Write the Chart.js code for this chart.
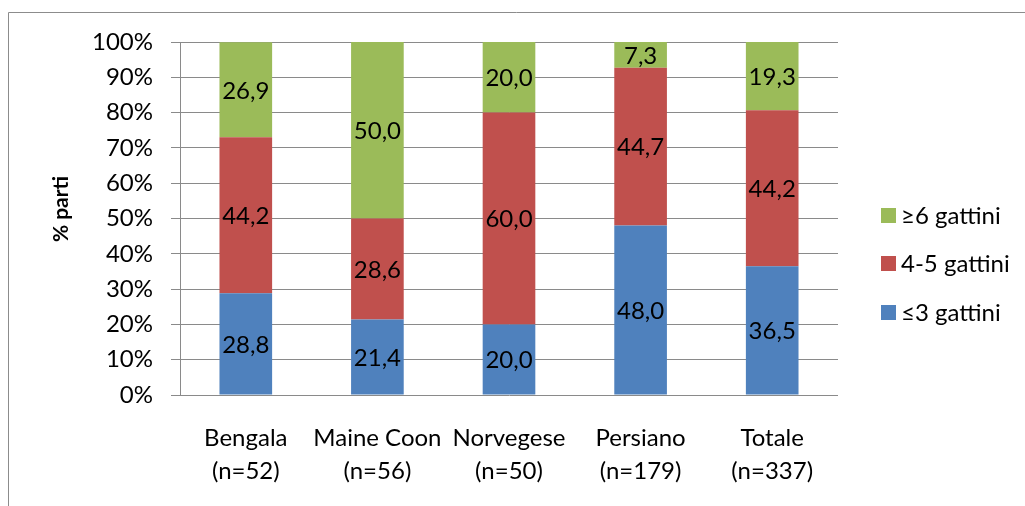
<!DOCTYPE html>
<html>
<head>
<meta charset="utf-8">
<script src="https://cdn.jsdelivr.net/npm/chart.js@4/dist/chart.umd.min.js"></script>
<style>
  html, body { margin: 0; padding: 0; background: #fff; }
  #wrap { width: 1025px; height: 506px; position: relative; }
</style>
</head>
<body>
<div id="wrap"><canvas id="c" width="1025" height="506"></canvas></div>
<script>
// Breeds with sample sizes (two-line axis labels)
const categories = [
  ['Bengala', '(n=52)'],
  ['Maine Coon', '(n=56)'],
  ['Norvegese', '(n=50)'],
  ['Persiano', '(n=179)'],
  ['Totale', '(n=337)']
];
// Percentage of litters per litter-size class
const small = [28.8, 21.4, 20.0, 48.0, 36.5];   // ≤3 gattini
const medium = [44.2, 28.6, 60.0, 44.7, 44.2];  // 4-5 gattini
const large = [26.9, 50.0, 20.0, 7.3, 19.3];    // ≥6 gattini
const yTicks = [0, 10, 20, 30, 40, 50, 60, 70, 80, 90, 100];
const seriesNames = ['≤3 gattini', '4-5 gattini', '≥6 gattini'];
const yTitle = '% parti';

const FONT = "Lato, 'Open Sans', 'DejaVu Sans', sans-serif";
const FS = 24;
const colors = ['#4F81BD', '#C0504D', '#9BBB59'];
const gridColor = '#8a8a8a';

// Values written inside each bar segment, with a decimal comma
const segmentLabels = {
  id: 'segmentLabels',
  afterDatasetsDraw(chart) {
    const ctx = chart.ctx;
    ctx.save();
    ctx.font = FS + 'px ' + FONT;
    ctx.fillStyle = '#000';
    ctx.textAlign = 'center';
    ctx.textBaseline = 'middle';
    chart.data.datasets.forEach((ds, i) => {
      chart.getDatasetMeta(i).data.forEach((bar, j) => {
        const p = bar.getProps(['x', 'y', 'base'], true);
        const v = ds.data[j];
        ctx.fillText(v.toFixed(1).replace('.', ','), p.x, (p.y + p.base) / 2 + 1);
      });
    });
    ctx.restore();
  }
};

// Outer frame, rotated axis title and the legend on the right
const decorations = {
  id: 'decorations',
  beforeDraw(chart) {
    const ctx = chart.ctx;
    ctx.save();
    ctx.strokeStyle = '#8c8c8c';
    ctx.lineWidth = 1;
    ctx.beginPath();
    ctx.moveTo(8.5, 506);
    ctx.lineTo(8.5, 12.5);
    ctx.lineTo(1025, 12.5);
    ctx.stroke();
    ctx.restore();
  },
  afterDraw(chart) {
    const ctx = chart.ctx;
    ctx.save();
    // axis title
    ctx.translate(61, 209);
    ctx.rotate(-Math.PI / 2);
    ctx.font = 'bold 21px ' + FONT;
    ctx.fillStyle = '#000';
    ctx.textAlign = 'center';
    ctx.textBaseline = 'middle';
    ctx.fillText(yTitle, 0, 0);
    ctx.restore();

    // legend, top entry is the top segment
    ctx.save();
    ctx.font = FS + 'px ' + FONT;
    ctx.textBaseline = 'middle';
    ctx.textAlign = 'left';
    const rows = [215, 263, 312];
    const order = [2, 1, 0];
    order.forEach((di, k) => {
      const ds = chart.data.datasets[di];
      ctx.fillStyle = ds.backgroundColor;
      ctx.fillRect(881, rows[k] - 7, 15, 15);
      ctx.fillStyle = '#000';
      ctx.fillText(ds.label, 901, rows[k] + 1);
    });
    ctx.restore();
  }
};

new Chart(document.getElementById('c'), {
  type: 'bar',
  data: {
    labels: categories,
    datasets: [
      { label: seriesNames[0], data: small, backgroundColor: colors[0] },
      { label: seriesNames[1], data: medium, backgroundColor: colors[1] },
      { label: seriesNames[2], data: large, backgroundColor: colors[2] }
    ]
  },
  options: {
    responsive: false,
    animation: false,
    devicePixelRatio: 1,
    layout: { padding: { top: 42, right: 187, left: 0, bottom: 0 } },
    datasets: { bar: { categoryPercentage: 1.0, barPercentage: 0.4, borderWidth: 0 } },
    plugins: { legend: { display: false }, tooltip: { enabled: false } },
    scales: {
      x: {
        stacked: true,
        grid: { display: false, drawTicks: false },
        border: { display: false },
        ticks: {
          color: '#000',
          font: { family: FONT, size: FS, lineHeight: 1.38 },
          padding: 27,
          maxRotation: 0,
          autoSkip: false
        },
        afterFit(s) { s.height = 111; }
      },
      y: {
        stacked: true,
        min: 0,
        max: 100,
        afterBuildTicks(s) { s.ticks = yTicks.map(v => ({ value: v })); },
        grid: { color: gridColor, lineWidth: 1, tickLength: 9, drawTicks: true },
        border: { display: true, color: gridColor, width: 1 },
        ticks: {
          color: '#000',
          font: { family: FONT, size: FS },
          padding: 18,
          callback: v => v + '%'
        },
        afterFit(s) { s.width = 180; }
      }
    }
  },
  plugins: [segmentLabels, decorations]
});
</script>
</body>
</html>
